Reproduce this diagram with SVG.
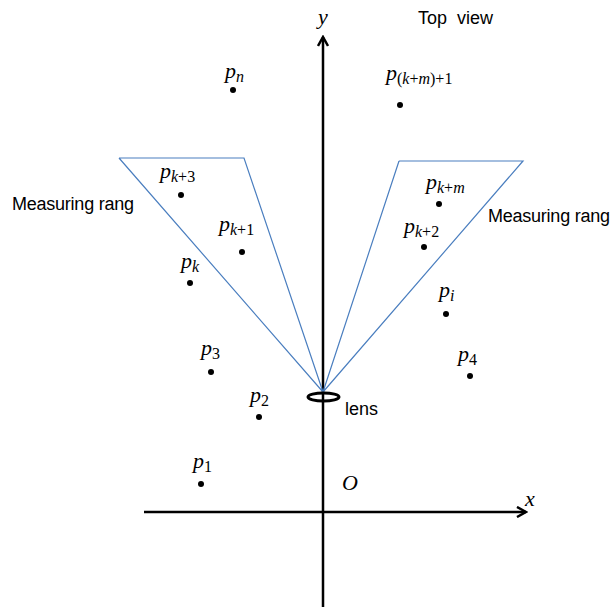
<svg xmlns="http://www.w3.org/2000/svg" width="611" height="609" viewBox="0 0 611 609">
<style>
.ax{stroke:#000;stroke-width:2.5;fill:none}
.rng{stroke:#4a7ebf;stroke-width:1.2;fill:none}
.dot{fill:#000}
.lbl{font-family:"Liberation Sans",Arial,sans-serif;font-size:18px;fill:#000}
.m{font-family:"Liberation Serif","DejaVu Serif",serif;font-style:italic;font-size:22px;fill:#000}
.s{font-size:16px}
.u{font-style:normal}
</style>
<defs>
<marker id="arr" viewBox="0 0 12 12" refX="10" refY="6" markerWidth="12" markerHeight="12" markerUnits="userSpaceOnUse" orient="auto">
<path d="M1,1 L10,6 L1,11" fill="none" stroke="#000" stroke-width="2.5"/>
</marker>
</defs>
<rect width="611" height="609" fill="#fff"/>
<g id="connectors">
<line class="ax" x1="144" y1="512" x2="526" y2="512" marker-end="url(#arr)"/>
<line class="ax" x1="323" y1="607" x2="323" y2="37" marker-end="url(#arr)"/>
<polyline class="rng" points="119,158 244,158 323,392 119,158"/>
<polyline class="rng" points="399,161 523,161 323,392 399,161"/>
</g>
<g id="lens">
<ellipse cx="323.5" cy="397" rx="15.5" ry="4" fill="none" stroke="#000" stroke-width="3"/>
<text class="lbl" x="345" y="415">lens</text>
</g>
<g id="labels">
<text class="m" x="318" y="24">y</text>
<text class="m" x="525" y="506">x</text>
<text class="m" x="342" y="490">O</text>
<text class="lbl" x="418" y="24" xml:space="preserve">Top  view</text>
<text class="lbl" x="12" y="210" textLength="122">Measuring rang</text>
<text class="lbl" x="488" y="222" textLength="122">Measuring rang</text>
</g>
<g id="p_n"><circle class="dot" cx="233" cy="90" r="3"/><text class="m" x="225" y="78">p<tspan class="s" dy="4">n</tspan></text></g>
<g id="p_km1"><circle class="dot" cx="400" cy="105" r="3"/><text class="m" x="386" y="80">p<tspan class="s u" dy="4">(</tspan><tspan class="s">k</tspan><tspan class="s u">+</tspan><tspan class="s">m</tspan><tspan class="s u">)+1</tspan></text></g>
<g id="p_k3"><circle class="dot" cx="181" cy="195" r="3"/><text class="m" x="160" y="178">p<tspan class="s" dy="4">k</tspan><tspan class="s u">+3</tspan></text></g>
<g id="p_k1"><circle class="dot" cx="242" cy="252" r="3"/><text class="m" x="219" y="231">p<tspan class="s" dy="4">k</tspan><tspan class="s u">+1</tspan></text></g>
<g id="p_k"><circle class="dot" cx="190" cy="283" r="3"/><text class="m" x="181" y="268">p<tspan class="s" dy="4">k</tspan></text></g>
<g id="p_km"><circle class="dot" cx="439" cy="204" r="3"/><text class="m" x="426" y="189">p<tspan class="s" dy="4">k</tspan><tspan class="s u">+</tspan><tspan class="s">m</tspan></text></g>
<g id="p_k2"><circle class="dot" cx="424" cy="247" r="3"/><text class="m" x="404" y="233">p<tspan class="s" dy="4">k</tspan><tspan class="s u">+2</tspan></text></g>
<g id="p_i"><circle class="dot" cx="446" cy="314" r="3"/><text class="m" x="439" y="297">p<tspan class="s" dy="4">i</tspan></text></g>
<g id="p_4"><circle class="dot" cx="470" cy="376" r="3"/><text class="m" x="458" y="361">p<tspan class="s u" dy="4">4</tspan></text></g>
<g id="p_3"><circle class="dot" cx="211" cy="372" r="3"/><text class="m" x="201" y="355">p<tspan class="s u" dy="4">3</tspan></text></g>
<g id="p_2"><circle class="dot" cx="259" cy="417" r="3"/><text class="m" x="250" y="402">p<tspan class="s u" dy="4">2</tspan></text></g>
<g id="p_1"><circle class="dot" cx="201" cy="484" r="3"/><text class="m" x="193" y="468">p<tspan class="s u" dy="4">1</tspan></text></g>
</svg>
